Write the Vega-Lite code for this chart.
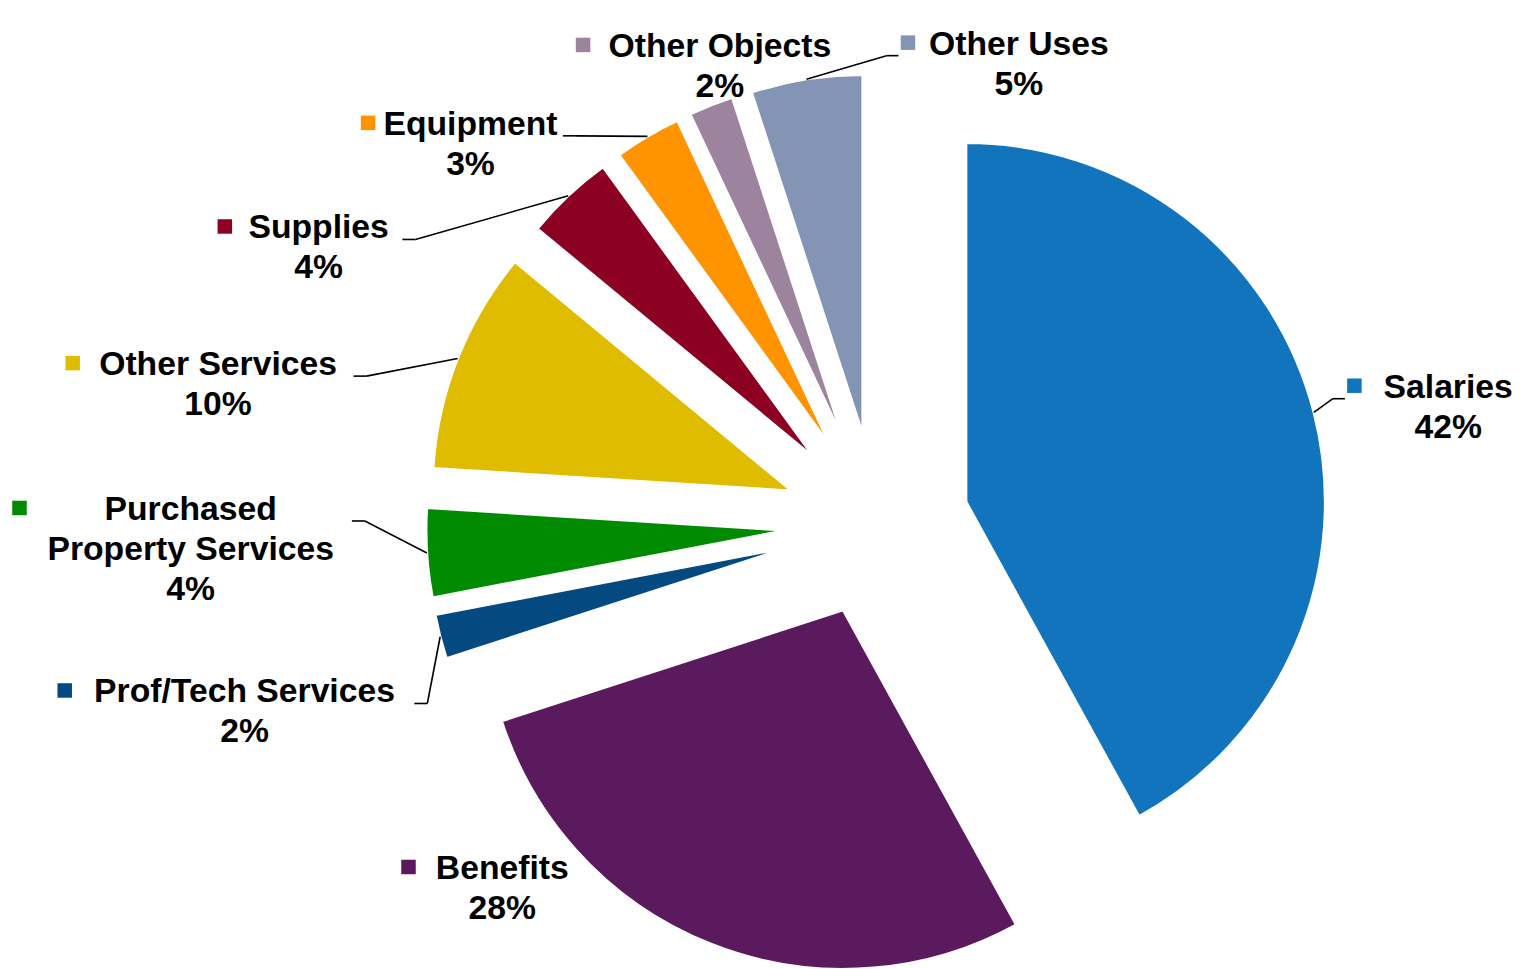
{
  "$schema": "https://vega.github.io/schema/vega-lite/v6.json",
  "width": 1527,
  "height": 969,
  "padding": 0,
  "autosize": {"type": "none"},
  "background": "white",
  "config": {"view": {"stroke": null}},
  "data": {
    "values": [
      {"category": "Salaries", "share": 42},
      {"category": "Benefits", "share": 28},
      {"category": "Prof/Tech Services", "share": 2},
      {"category": "Purchased Property Services", "share": 4},
      {"category": "Other Services", "share": 10},
      {"category": "Supplies", "share": 4},
      {"category": "Equipment", "share": 3},
      {"category": "Other Objects", "share": 2},
      {"category": "Other Uses", "share": 5}
    ]
  },
  "transform": [
    {"window": [{"op": "row_number", "as": "idx"}, {"op": "sum", "field": "share", "as": "cum"}], "frame": [null, 0]},
    {"calculate": "datum.cum - datum.share", "as": "p0"},
    {"calculate": "datum.cum", "as": "p1"},
    {"calculate": "(datum.p0 + datum.p1) * 1.8", "as": "mid"},
    {"calculate": "sin(datum.mid * PI / 180)", "as": "ux"},
    {"calculate": "-cos(datum.mid * PI / 180)", "as": "uy"},
    {"calculate": "92 * datum.ux", "as": "ax"},
    {"calculate": "92 * datum.uy", "as": "ay"},
    {"calculate": "451 * datum.ux", "as": "px"},
    {"calculate": "451 * datum.uy", "as": "py"},
    {"calculate": "datum.share < 15", "as": "small"},
    {"calculate": "length(datum.category) > 20", "as": "long"},
    {"calculate": "indexof(datum.category, ' ')", "as": "sp"},
    {"calculate": "datum.long ? substring(datum.category, 0, datum.sp) : datum.category", "as": "line1"},
    {"calculate": "datum.long ? substring(datum.category, datum.sp + 1) : ''", "as": "line2"},
    {"calculate": "datum.long ? 3 : 2", "as": "nl"},
    {"calculate": "max(length(datum.line1), length(datum.line2)) * 8.6", "as": "hw"},
    {"calculate": "datum.long ? datum.line1 + '\\n' + datum.line2 + '\\n' + datum.share + '%' : datum.category + '\\n' + datum.share + '%'", "as": "lbl"},
    {"window": [
      {"op": "lag", "field": "mid", "as": "prevMid"},
      {"op": "lag", "field": "nl", "as": "prevNl"},
      {"op": "lag", "field": "hw", "as": "prevHw"}
    ], "groupby": ["small"], "sort": [{"field": "idx"}]},
    {"calculate": "datum.prevMid == null ? 0 : 4 * (datum.prevNl + datum.nl) * pow(sin((datum.prevMid + datum.mid) / 2 * PI / 180), 2) + 0.13 * (datum.prevHw + datum.hw) * pow(cos((datum.prevMid + datum.mid) / 2 * PI / 180), 2)", "as": "gap"},
    {"window": [{"op": "sum", "field": "gap", "as": "G"}], "groupby": ["small"], "sort": [{"field": "idx"}], "frame": [null, 0]},
    {"calculate": "datum.mid - datum.G", "as": "yv"},
    {"joinaggregate": [{"op": "mean", "field": "yv", "as": "yMean"}], "groupby": ["small"]},
    {"calculate": "datum.small ? datum.G + datum.yMean : datum.mid", "as": "phi"},
    {"calculate": "690 * sin(datum.phi * PI / 180)", "as": "lx0"},
    {"calculate": "-470 * cos(datum.phi * PI / 180)", "as": "ly0"},
    {"calculate": "clamp(datum.ly0, -494.6 + 20 * (datum.nl - 1), 384.4 - 20 * (datum.nl - 1))", "as": "lyc"},
    {"calculate": "datum.lyc - 20 * (datum.nl - 1)", "as": "y1"},
    {"calculate": "clamp(datum.lx0, -865 + datum.hw + 32.5, 640 - datum.hw)", "as": "lx1"},
    {"calculate": "max(datum.y1 - 17 - datum.ay, 0, datum.ay - (datum.y1 + 40 * (datum.nl - 1) + 12))", "as": "dyn"},
    {"calculate": "sqrt(max(0, 364 * 364 - datum.dyn * datum.dyn))", "as": "sq"},
    {"calculate": "datum.small ? datum.lx1 : (datum.ux < 0 ? min(datum.lx1, datum.ax - datum.hw - datum.sq) : max(datum.lx1, datum.ax + datum.hw + 32.5 + datum.sq))", "as": "lx"},
    {"calculate": "abs(datum.lx - datum.lx1) > 0.5", "as": "pushed"},
    {"calculate": "datum.lx - datum.hw - 25", "as": "mx"},
    {"calculate": "datum.y1 - 2", "as": "my"},
    {"calculate": "datum.lx < datum.px - 50 ? -1 : (datum.lx > datum.px + 50 ? 1 : 0)", "as": "side"},
    {"calculate": "datum.side < 0 ? datum.lx + datum.hw + 28 : datum.lx - datum.hw - 46.5", "as": "qx"},
    {"calculate": "datum.y1 + 11", "as": "qy"},
    {"calculate": "datum.side < 0 ? datum.qx - 13 : datum.qx + 12", "as": "tx"},
    {"calculate": "datum.side != 0 && !datum.pushed && sqrt((datum.qx - datum.px) * (datum.qx - datum.px) + (datum.qy - datum.py) * (datum.qy - datum.py)) > 15", "as": "leader"}
  ],
  "layer": [
    {
      "mark": {"type": "arc", "radius": 359, "stroke": "white", "strokeWidth": 2.5},
      "encoding": {
        "x": {"field": "ax", "type": "quantitative", "scale": {"domain": [-877, 650], "nice": false, "zero": false}, "axis": null},
        "y": {"field": "ay", "type": "quantitative", "scale": {"domain": [-524.6, 444.4], "reverse": true, "nice": false, "zero": false}, "axis": null},
        "theta": {"field": "p0", "type": "quantitative", "stack": null, "scale": {"domain": [0, 100], "range": [0, 6.283185307179586]}},
        "theta2": {"field": "p1"},
        "color": {
          "field": "category", "type": "nominal", "legend": null,
          "scale": {
            "domain": ["Salaries", "Benefits", "Prof/Tech Services", "Purchased Property Services", "Other Services", "Supplies", "Equipment", "Other Objects", "Other Uses"],
            "range": ["#1174BC", "#5C1A5E", "#044A80", "#008A00", "#E0BC00", "#8C0022", "#FF9400", "#9C849E", "#8494B4"]
          }
        }
      }
    },
    {
      "transform": [{"filter": "datum.leader"}],
      "mark": {"type": "rule", "color": "black", "strokeWidth": 1.6},
      "encoding": {
        "x": {"field": "px", "type": "quantitative", "scale": {"domain": [-877, 650], "nice": false, "zero": false}, "axis": null},
        "y": {"field": "py", "type": "quantitative", "scale": {"domain": [-524.6, 444.4], "reverse": true, "nice": false, "zero": false}, "axis": null},
        "x2": {"field": "qx"},
        "y2": {"field": "qy"}
      }
    },
    {
      "transform": [{"filter": "datum.leader"}],
      "mark": {"type": "rule", "color": "black", "strokeWidth": 1.6},
      "encoding": {
        "x": {"field": "qx", "type": "quantitative", "scale": {"domain": [-877, 650], "nice": false, "zero": false}, "axis": null},
        "y": {"field": "qy", "type": "quantitative", "scale": {"domain": [-524.6, 444.4], "reverse": true, "nice": false, "zero": false}, "axis": null},
        "x2": {"field": "tx"},
        "y2": {"field": "qy"}
      }
    },
    {
      "mark": {"type": "point", "shape": "square", "filled": true, "size": 210, "opacity": 1},
      "encoding": {
        "x": {"field": "mx", "type": "quantitative", "scale": {"domain": [-877, 650], "nice": false, "zero": false}, "axis": null},
        "y": {"field": "my", "type": "quantitative", "scale": {"domain": [-524.6, 444.4], "reverse": true, "nice": false, "zero": false}, "axis": null},
        "color": {"field": "category", "type": "nominal", "legend": null}
      }
    },
    {
      "mark": {"type": "text", "font": "Liberation Sans", "fontWeight": "bold", "fontSize": 33.7, "lineHeight": 40, "align": "center", "baseline": "middle", "lineBreak": "\n", "color": "black"},
      "encoding": {
        "x": {"field": "lx", "type": "quantitative", "scale": {"domain": [-877, 650], "nice": false, "zero": false}, "axis": null},
        "y": {"field": "y1", "type": "quantitative", "scale": {"domain": [-524.6, 444.4], "reverse": true, "nice": false, "zero": false}, "axis": null},
        "text": {"field": "lbl", "type": "nominal"}
      }
    }
  ]
}
